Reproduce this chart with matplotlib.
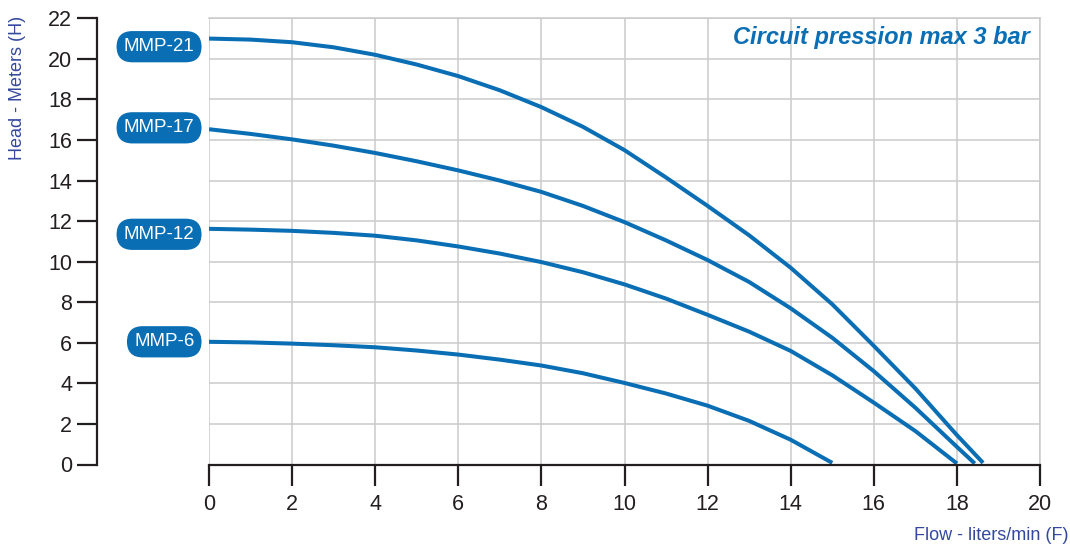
import matplotlib
matplotlib.use("Agg")
import matplotlib.pyplot as plt

# pump curves (flow l/min -> head m)
flow_21 = [0, 1, 2, 3, 4, 5, 6, 7, 8, 9, 10, 11, 12, 13, 14, 15, 16, 17, 18, 18.63]
head_21 = [21.0, 20.95, 20.82, 20.57, 20.2, 19.72, 19.15, 18.45, 17.62, 16.65,
           15.5, 14.15, 12.75, 11.3, 9.7, 7.9, 5.85, 3.75, 1.45, 0.08]

flow_17 = [0, 1, 2, 3, 4, 5, 6, 7, 8, 9, 10, 11, 12, 13, 14, 15, 16, 17, 18, 18.43]
head_17 = [16.53, 16.3, 16.03, 15.72, 15.36, 14.95, 14.5, 14.0, 13.44, 12.75,
           11.95, 11.05, 10.08, 9.0, 7.7, 6.25, 4.6, 2.8, 0.87, 0.05]

flow_12 = [0, 1, 2, 3, 4, 5, 6, 7, 8, 9, 10, 11, 12, 13, 14, 15, 16, 17, 18]
head_12 = [11.62, 11.58, 11.52, 11.42, 11.28, 11.05, 10.75, 10.4, 9.98, 9.48,
           8.88, 8.18, 7.38, 6.55, 5.6, 4.4, 3.05, 1.65, 0.05]

flow_6 = [0, 1, 2, 3, 4, 5, 6, 7, 8, 9, 10, 11, 12, 13, 14, 15]
head_6 = [6.05, 6.02, 5.96, 5.88, 5.78, 5.62, 5.42, 5.17, 4.88, 4.5,
          4.02, 3.5, 2.9, 2.15, 1.22, 0.08]

models = ["MMP-21", "MMP-17", "MMP-12", "MMP-6"]
label_y = [20.6, 16.6, 11.35, 6.05]   # where the pill labels sit

x_ticks = list(range(0, 21, 2))
y_ticks = list(range(0, 23, 2))

BLUE = "#0a6eb4"
NAVY = "#34499c"
DARK = "#231f20"
GRID = "#cacacc"

plt.rcParams["font.family"] = ["Liberation Sans", "DejaVu Sans"]

fig = plt.figure(figsize=(10.7, 5.46), dpi=100)
ax = fig.add_axes([209 / 1070, 1 - 464.5 / 546, 831 / 1070, 446.2 / 546])

curves = [(flow_21, head_21), (flow_17, head_17), (flow_12, head_12), (flow_6, head_6)]
for (fx, hy) in curves:
    ax.plot(fx, hy, color=BLUE, lw=2.9, solid_capstyle="butt",
            solid_joinstyle="round", zorder=3)

for name, ly in zip(models, label_y):
    ax.annotate(name, xy=(0, ly), xytext=(-10.5, 0), textcoords="offset points",
                ha="right", va="center", color="white", fontsize=13.5,
                annotation_clip=False,
                bbox=dict(boxstyle="round,pad=0.38,rounding_size=0.85",
                          fc=BLUE, ec="none"))

ax.set_xlim(0, 20)
ax.set_ylim(0, 22)
ax.set_xticks(x_ticks)
ax.set_yticks(y_ticks)
ax.grid(True, color=GRID, lw=1.1)
ax.set_axisbelow(True)

for side in ["top", "right"]:
    ax.spines[side].set_color(GRID)
    ax.spines[side].set_linewidth(1.1)
ax.spines["bottom"].set_color(DARK)
ax.spines["bottom"].set_linewidth(1.6)
ax.spines["bottom"].set_zorder(4)
ax.spines["left"].set_color(DARK)
ax.spines["left"].set_linewidth(1.6)
ax.spines["left"].set_position(("outward", 80.6))

ax.tick_params(axis="x", direction="out", length=15, width=1.6, pad=6.5,
               labelsize=15.5, colors=DARK)
ax.tick_params(axis="y", direction="out", length=14.4, width=1.6, pad=3.6,
               labelsize=15.5, colors=DARK)

ax.text(0.988, 0.956, "Circuit pression max 3 bar", transform=ax.transAxes,
        ha="right", va="center", color=BLUE, fontsize=17,
        fontweight="bold", fontstyle="italic")

fig.text(18 / 1070, 1 - 88 / 546, "Head - Meters (H)", rotation=90,
         ha="center", va="center", color=NAVY, fontsize=13)
fig.text(1068 / 1070, 1 - 535 / 546, "Flow - liters/min (F)",
         ha="right", va="center", color=NAVY, fontsize=13)

fig.savefig("out.png", dpi=100)
